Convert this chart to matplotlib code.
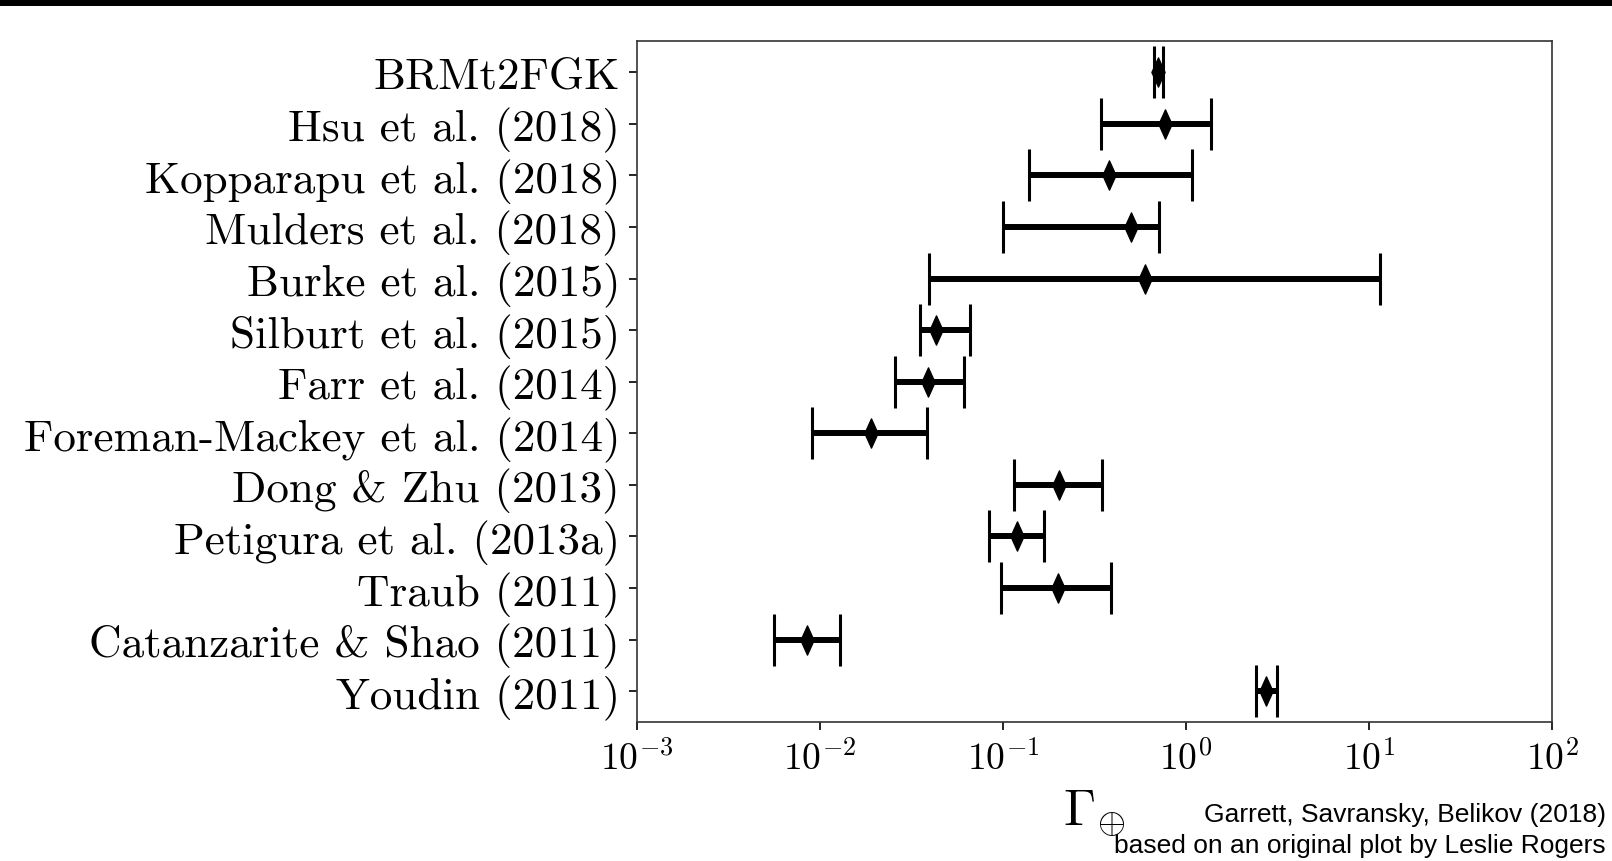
import numpy as np
import matplotlib
matplotlib.use('Agg')
import matplotlib.pyplot as plt
from matplotlib.patches import Rectangle
from matplotlib.path import Path

plt.rcParams['font.family'] = 'cmr10'
plt.rcParams['mathtext.fontset'] = 'cm'
plt.rcParams['axes.unicode_minus'] = False
plt.rcParams['axes.formatter.use_mathtext'] = True

# studies, top to bottom
studies = ['BRMt2FGK', 'Hsu et al. (2018)', 'Kopparapu et al. (2018)',
           'Mulders et al. (2018)', 'Burke et al. (2015)', 'Silburt et al. (2015)',
           'Farr et al. (2014)', 'Foreman-Mackey et al. (2014)', 'Dong & Zhu (2013)',
           'Petigura et al. (2013a)', 'Traub (2011)', 'Catanzarite & Shao (2011)',
           'Youdin (2011)']
# Gamma_Earth estimates with lower / upper bounds
gamma = [0.705, 0.77, 0.38, 0.50, 0.60, 0.0432, 0.0389, 0.0191, 0.201, 0.12, 0.20, 0.00855, 2.74]
lower = [0.67, 0.342, 0.138, 0.100, 0.0395, 0.0351, 0.0257, 0.00902, 0.115, 0.0834, 0.0975, 0.00559, 2.41]
upper = [0.75, 1.36, 1.08, 0.71, 11.5, 0.0661, 0.0612, 0.0384, 0.346, 0.168, 0.39, 0.0129, 3.12]

gamma = np.array(gamma)
xerr_lo = gamma - np.array(lower)
xerr_hi = np.array(upper) - gamma
ypos = np.arange(len(studies))[::-1]

# narrow diamond marker
diamond = Path([(0, -1), (0.45, 0), (0, 1), (-0.45, 0), (0, -1)],
               [Path.MOVETO, Path.LINETO, Path.LINETO, Path.LINETO, Path.CLOSEPOLY])

fig = plt.figure(figsize=(16.12, 8.62), dpi=100)
ax = fig.add_axes([0.395, 0.161, 0.568, 0.790])

ax.errorbar(gamma, ypos, xerr=[xerr_lo, xerr_hi], fmt='none', ecolor='k',
            elinewidth=4.3, capsize=19, capthick=2.2)
ax.plot(gamma, ypos, linestyle='none', marker=diamond, markersize=21, color='k')

ax.set_xscale('log')
ax.set_xlim(1e-3, 1e2)
ax.minorticks_off()
ax.set_yticks(ypos)
ax.set_yticklabels(studies)
ax.tick_params(axis='y', labelsize=32.5, length=6, width=1.2, pad=6)
ax.tick_params(axis='x', labelsize=27, length=6, width=1.2, pad=6)
for s in ax.spines.values():
    s.set_linewidth(1.2)
    s.set_color('#333333')

ax.set_xlabel(r'$\Gamma_{\oplus}$', fontsize=37, labelpad=0)
ax.xaxis.set_label_coords(0.50, -0.096)

fig.text(0.996, 0.054, 'Garrett, Savransky, Belikov (2018)', ha='right', va='center',
         fontsize=19, family='Liberation Sans')
fig.text(0.996, 0.019, 'based on an original plot by Leslie Rogers', ha='right', va='center',
         fontsize=19, family='Liberation Sans')

# black band along the top edge
fig.add_artist(Rectangle((0, 0.992), 1, 0.008, transform=fig.transFigure,
                         facecolor='k', edgecolor='none'))

fig.savefig('out.png', dpi=100)
